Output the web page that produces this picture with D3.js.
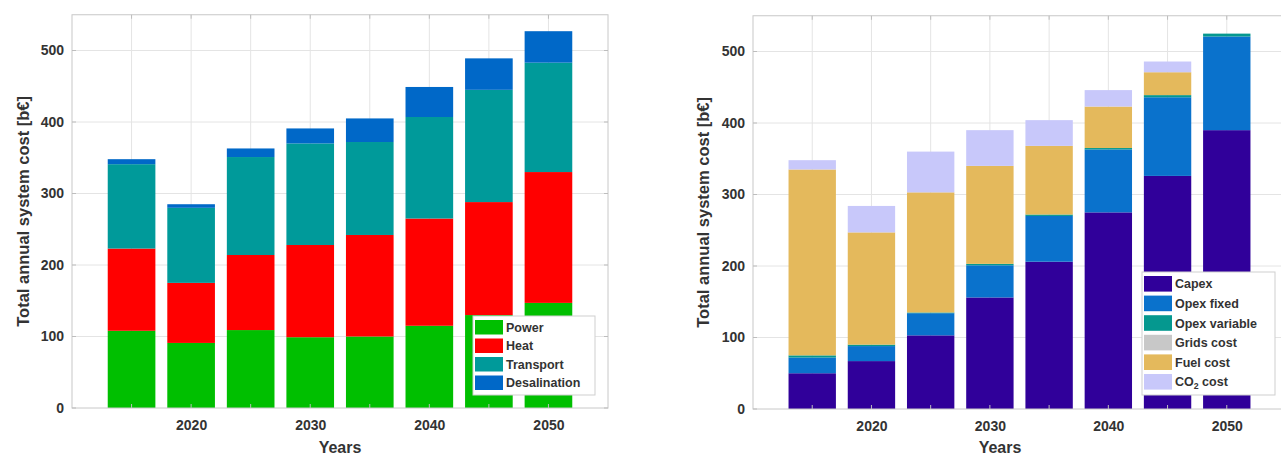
<!DOCTYPE html>
<html><head><meta charset="utf-8">
<script src="https://cdn.jsdelivr.net/npm/d3@7"></script>
<style>body{margin:0;background:#fff}text{font-family:"Liberation Sans",Arial,sans-serif}</style>
</head><body><svg id="c" width="1281" height="455"></svg>
<script>
const years = [2015,2020,2025,2030,2035,2040,2045,2050];
const xTickYears = [2020,2030,2040,2050];
const yTicks = [0,100,200,300,400,500];

// Left panel: sector costs [b€]
const sectorNames = ["Power","Heat","Transport","Desalination"];
const power        = [108, 91,109, 99,100,115,130,147];
const heat         = [115, 84,105,129,142,150,158,183];
const transport    = [118,105,137,142,130,142,157,153];
const desalination = [  7,  5, 12, 21, 33, 42, 44, 44];
const sectorColors = ["#00bf00","#ff0000","#009a9a","#0068c8"];

// Right panel: cost components [b€]
const compNames = ["Capex","Opex fixed","Opex variable","Grids cost","Fuel cost","CO2 cost"];
const capex     = [ 50, 67,103,156,206,275,326,390];
const opexFixed = [ 22, 21, 31, 45, 64, 88,110,131];
const opexVar   = [  3,  2,  1,  2,  2,  2,  3,  4];
const grids     = [  0,  0,  0,  0,  0,  0,  0,  0];
const fuel      = [260,157,168,137, 96, 58, 32,  0];
const co2       = [ 13, 37, 57, 50, 36, 23, 15,  0];
const compColors = ["#30009a","#0a72cc","#05988f","#c8c8c8","#e4b95c","#c8c8fa"];

const svg = d3.select("#c");
const txt = "#333";

function panel(cfg){
  const x = d3.scaleLinear().domain([2010,2055]).range([cfg.x0,cfg.x1]);
  const y = d3.scaleLinear().domain([0,550]).range([cfg.y0,cfg.y1]);
  const g = svg.append("g");
  g.selectAll(".vg").data(years).enter().append("line")
    .attr("x1",d=>x(d)).attr("x2",d=>x(d)).attr("y1",y(0)).attr("y2",y(550))
    .attr("stroke","#e4e4e4").attr("stroke-width",1);
  g.selectAll(".hg").data(yTicks.slice(1)).enter().append("line")
    .attr("x1",x(2010)).attr("x2",x(2055)).attr("y1",d=>y(d)).attr("y2",d=>y(d))
    .attr("stroke","#e4e4e4").attr("stroke-width",1);
  const rows = years.map((yr,i)=>{const o={year:yr}; cfg.names.forEach((n,k)=>o[n]=cfg.series[k][i]); return o;});
  const stack = d3.stack().keys(cfg.names)(rows);
  const bw = x(2014)-x(2010);
  stack.forEach((layer,k)=>{
    g.selectAll(null).data(layer).enter().append("rect")
      .attr("x",d=>x(d.data.year)-bw/2).attr("width",bw)
      .attr("y",d=>y(d[1])).attr("height",d=>Math.max(0,y(d[0])-y(d[1])))
      .attr("fill",cfg.colors[k]);
  });
  g.append("rect").attr("x",x(2010)).attr("y",y(550)).attr("width",x(2055)-x(2010)).attr("height",y(0)-y(550))
    .attr("fill","none").attr("stroke","#c8c8c8").attr("stroke-width",1);
  const tk = g.append("g").attr("stroke","#bdbdbd");
  years.forEach(d=>{
    tk.append("line").attr("x1",x(d)).attr("x2",x(d)).attr("y1",y(0)).attr("y2",y(0)-4);
    tk.append("line").attr("x1",x(d)).attr("x2",x(d)).attr("y1",y(550)).attr("y2",y(550)+4);
  });
  yTicks.forEach(d=>{
    tk.append("line").attr("x1",x(2010)).attr("x2",x(2010)+4).attr("y1",y(d)).attr("y2",y(d));
    tk.append("line").attr("x1",x(2055)).attr("x2",x(2055)-4).attr("y1",y(d)).attr("y2",y(d));
  });
  const xa = d3.axisBottom(x).tickValues(xTickYears).tickFormat(d3.format("d")).tickSize(0).tickPadding(12);
  const gx = g.append("g").attr("transform",`translate(0,${y(0)})`).call(xa);
  gx.select(".domain").remove();
  gx.selectAll("text").attr("font-size",14).attr("font-weight","bold").attr("fill",txt);
  const ya = d3.axisLeft(y).tickValues(yTicks).tickSize(0).tickPadding(8);
  const gy = g.append("g").attr("transform",`translate(${x(2010)},0)`).call(ya);
  gy.select(".domain").remove();
  gy.selectAll("text").attr("font-size",14).attr("font-weight","bold").attr("fill",txt);
  g.append("text").attr("x",cfg.xlabX).attr("y",453).attr("text-anchor","middle")
    .attr("font-size",16).attr("font-weight","bold").attr("fill",txt).text("Years");
  g.append("text").attr("transform",`translate(${cfg.ylabX},${(y(0)+y(550))/2}) rotate(-90)`)
    .attr("text-anchor","middle").attr("font-size",16.5).attr("font-weight","bold").attr("fill",txt)
    .text("Total annual system cost [b€]");
  const L = cfg.legend;
  const lg = g.append("g");
  lg.append("rect").attr("x",L.x).attr("y",L.y).attr("width",L.w).attr("height",L.h)
    .attr("fill","#fff").attr("stroke","#cfcfcf");
  cfg.names.forEach((n,k)=>{
    const yy = L.y+4+k*L.step;
    lg.append("rect").attr("x",L.x+2).attr("y",yy).attr("width",28).attr("height",L.step-4).attr("fill",cfg.colors[k]);
    const t = lg.append("text").attr("x",L.x+33).attr("y",yy+(L.step-4)/2+4.5).attr("font-size",L.fs)
      .attr("font-weight","bold").attr("fill",txt);
    if(n==="CO2 cost"){
      t.append("tspan").text("CO");
      t.append("tspan").attr("font-size",L.fs*0.7).attr("dy",3).text("2");
      t.append("tspan").attr("dy",-3).text(" cost");
    } else t.text(n);
  });
}

panel({x0:72,x1:608,y0:408,y1:14.75,names:sectorNames,series:[power,heat,transport,desalination],
  colors:sectorColors,xlabX:340,ylabX:29,legend:{x:473,y:316,w:122,h:79,step:18.5,fs:12.5}});
panel({x0:753,x1:1286,y0:409,y1:15.75,names:compNames,series:[capex,opexFixed,opexVar,grids,fuel,co2],
  colors:compColors,xlabX:1000,ylabX:709,legend:{x:1142,y:272,w:133,h:123,step:19.6,fs:12.5}});
</script></body></html>
